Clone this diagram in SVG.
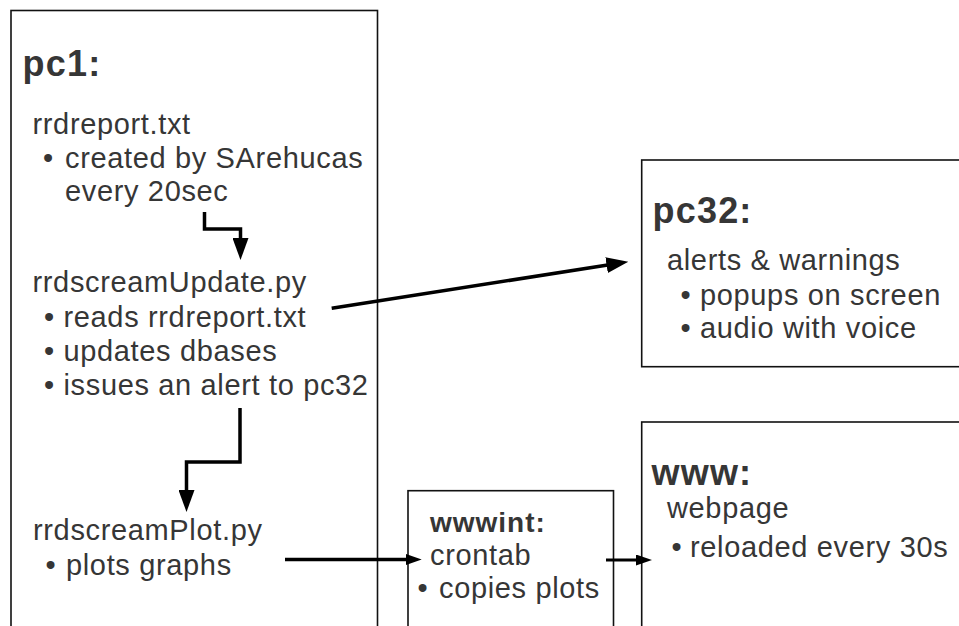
<svg xmlns="http://www.w3.org/2000/svg" width="959" height="626" viewBox="0 0 959 626">
<defs>
<style>
.box{fill:#fff;stroke:#111;stroke-width:1.6}
.t{font-family:"Liberation Sans",Arial,sans-serif;font-size:29px;letter-spacing:0.65px;fill:#363636}
.b{text-anchor:middle}
.h{font-family:"Liberation Sans",Arial,sans-serif;font-size:36px;font-weight:bold;letter-spacing:1.2px;fill:#363636}
.h2{font-family:"Liberation Sans",Arial,sans-serif;font-size:28px;font-weight:bold;letter-spacing:1px;fill:#363636}
.c{fill:none;stroke:#000;stroke-width:3.5}
</style>
<marker id="big" markerUnits="userSpaceOnUse" markerWidth="22" markerHeight="16" refX="6" refY="8" orient="auto">
<path d="M0,0 L22,8 L0,16 Z" fill="#000"/>
</marker>
<marker id="small" markerUnits="userSpaceOnUse" markerWidth="16" markerHeight="11" refX="5" refY="5.5" orient="auto">
<path d="M0,0 L16,5.5 L0,11 Z" fill="#000"/>
</marker>
</defs>
<rect width="959" height="626" fill="#fff"/>
<g id="pc1">
<rect class="box" x="11" y="10.5" width="366.5" height="640"/>
<text class="h" x="22.5" y="75.5">pc1:</text>
<text class="t" x="32.5" y="133.5">rrdreport.txt</text>
<text class="t b" x="48.5" y="168">•</text>
<text class="t" x="65" y="168">created by SArehucas</text>
<text class="t" x="65" y="201">every 20sec</text>
<text class="t" x="32.5" y="292">rrdscreamUpdate.py</text>
<text class="t b" x="49.5" y="327">•</text>
<text class="t" x="63.5" y="327">reads rrdreport.txt</text>
<text class="t b" x="49.5" y="361">•</text>
<text class="t" x="63.5" y="361">updates dbases</text>
<text class="t b" x="49.5" y="395">•</text>
<text class="t" x="63.5" y="395">issues an alert to pc32</text>
<text class="t" x="33" y="540">rrdscreamPlot.py</text>
<text class="t b" x="51" y="575">•</text>
<text class="t" x="66" y="575">plots graphs</text>
</g>
<g id="pc32">
<rect class="box" x="641.7" y="160" width="330" height="206.7"/>
<text class="h" x="652.5" y="223">pc32:</text>
<text class="t" x="667" y="270">alerts &amp; warnings</text>
<text class="t b" x="686" y="304.5">•</text>
<text class="t" x="700" y="304.5">popups on screen</text>
<text class="t b" x="686" y="338">•</text>
<text class="t" x="700" y="338">audio with voice</text>
</g>
<g id="www">
<rect class="box" x="641.7" y="422" width="330" height="230"/>
<text class="h" x="651.5" y="485">www:</text>
<text class="t" x="667" y="518">webpage</text>
<text class="t b" x="677" y="556.5">•</text>
<text class="t" x="690" y="556.5">reloaded every 30s</text>
</g>
<g id="wwwint">
<rect class="box" x="408" y="490.7" width="205.5" height="160"/>
<text class="h2" x="430" y="531.5">wwwint:</text>
<text class="t" x="430" y="565">crontab</text>
<text class="t b" x="423" y="598">•</text>
<text class="t" x="439" y="598">copies plots</text>
</g>
<g id="connectors">
<path class="c" d="M204.5,212 V229 H240.5 V244" marker-end="url(#big)"/>
<path class="c" d="M240,408 V462 H186.5 V496" marker-end="url(#big)"/>
<path class="c" d="M331.7,308.3 L612.5,264.2" marker-end="url(#big)"/>
<path class="c" d="M285,559.5 H410.7" marker-end="url(#small)"/>
<path class="c" style="stroke-width:3" d="M606,560 H641" marker-end="url(#small)"/>
</g>
</svg>
